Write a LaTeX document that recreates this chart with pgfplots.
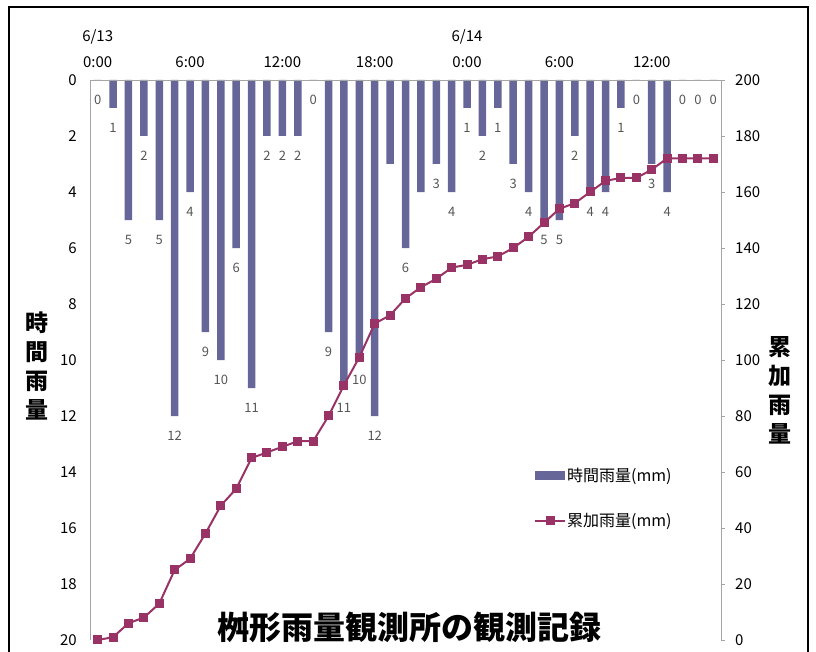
\documentclass[border=0pt]{standalone}
\usepackage{pgfplots}
\pgfplotsset{compat=1.18}
\usepackage{pgfplotstable}
\usepackage{fontspec}
\setmainfont{Noto Sans CJK JP}

\definecolor{barcol}{RGB}{102,102,153}
\definecolor{linecol}{RGB}{153,51,102}
\definecolor{labgray}{RGB}{85,85,85}
\definecolor{axgray}{RGB}{165,165,165}

% hourly rain (h) and cumulative rain (c), mm
\pgfplotstableread{
i h c
0 0 0
1 1 1
2 5 6
3 2 8
4 5 13
5 12 25
6 4 29
7 9 38
8 10 48
9 6 54
10 11 65
11 2 67
12 2 69
13 2 71
14 0 71
15 9 80
16 11 91
17 10 101
18 12 113
19 3 116
20 6 122
21 4 126
22 3 129
23 4 133
24 1 134
25 2 136
26 1 137
27 3 140
28 4 144
29 5 149
30 5 154
31 2 156
32 4 160
33 4 164
34 1 165
35 0 165
36 3 168
37 4 172
38 0 172
39 0 172
40 0 172
}\rain

\begin{document}
\begin{tikzpicture}
\useasboundingbox (-90pt,-12pt) rectangle (726pt,640pt);
\begin{axis}[
  scale only axis, width=631pt, height=560pt,
  xmin=-0.5, xmax=40.5, ymin=0, ymax=20, y dir=reverse,
  axis x line=none, axis y line*=left,
  axis line style={axgray},
  clip=false,
  ytick={0,2,...,20}, ytick style={draw=none},
  yticklabel style={font=\fontsize{15}{15}\selectfont, anchor=east, inner sep=0pt, xshift=-13pt},
  /pgf/number format/assume math mode=true,
]
\addplot[ybar, bar width=7.5pt, bar shift=0pt, fill=barcol, draw=none, forget plot]
  table[x=i, y=h]{\rain};
\addplot[ybar, bar width=7.5pt, bar shift=0pt, fill=none, draw=none, forget plot,
  point meta=y, nodes near coords, nodes near coords align={center},
  nodes near coords style={anchor=center, yshift=-19.5pt, text=labgray, font=\fontsize{13}{13}\selectfont},
  skip coords between index={19}{20}, skip coords between index={21}{22}]
  table[x=i, y=h]{\rain};
\end{axis}
\begin{axis}[
  scale only axis, width=631pt, height=560pt,
  xmin=-0.5, xmax=40.5, ymin=0, ymax=200,
  axis x line*=top, axis y line*=right,
  axis line style={axgray},
  clip=false,
  xtick={0,6,...,36},
  xticklabels={{6/13\\0:00},6:00,12:00,18:00,{6/14\\0:00},6:00,12:00},
  xtick style={draw=none},
  xticklabel style={align=center, font=\fontsize{15}{26}\selectfont, anchor=south, inner sep=0pt, yshift=8pt},
  ytick={0,20,...,200}, ytick style={axgray},
  tick align=outside, major tick length=4pt,
  yticklabel style={font=\fontsize{15}{15}\selectfont, anchor=west, inner sep=0pt, xshift=10pt},
  /pgf/number format/assume math mode=true,
  legend style={at={(0.7036,0.31)}, anchor=north west, draw=none, fill=none,
    font=\fontsize{16}{16}\selectfont, row sep=29pt, inner sep=0pt,
    nodes={inner sep=1pt}},
  legend cell align=left,
]
\addlegendimage{legend image code/.code={\fill[barcol] (0pt,-4pt) rectangle (29pt,4pt);}}
\addlegendentry{時間雨量(mm)}
\addplot[linecol, line width=2pt, mark=square*, mark size=3.5pt,
  mark options={solid, fill=linecol, draw=none},
  legend image code/.code={\draw[linecol, line width=2pt] (0pt,0pt) -- (30pt,0pt);
    \fill[linecol] (11.5pt,-3.5pt) rectangle (18.5pt,3.5pt);}]
  table[x=i, y=c]{\rain};
\addlegendentry{累加雨量(mm)}
\end{axis}
\node[font=\fontsize{32}{32}\selectfont\bfseries, anchor=center] at (319pt,13pt) {桝形雨量観測所の観測記録};
\node[font=\fontsize{23}{29}\selectfont\bfseries, align=center] at (-53pt,274pt) {時\\間\\雨\\量};
\node[font=\fontsize{23}{29}\selectfont\bfseries, align=center] at (690pt,250pt) {累\\加\\雨\\量};
\draw[line width=1.5pt] (-81pt,633pt) rectangle (718pt,-40pt);
\end{tikzpicture}
\end{document}
